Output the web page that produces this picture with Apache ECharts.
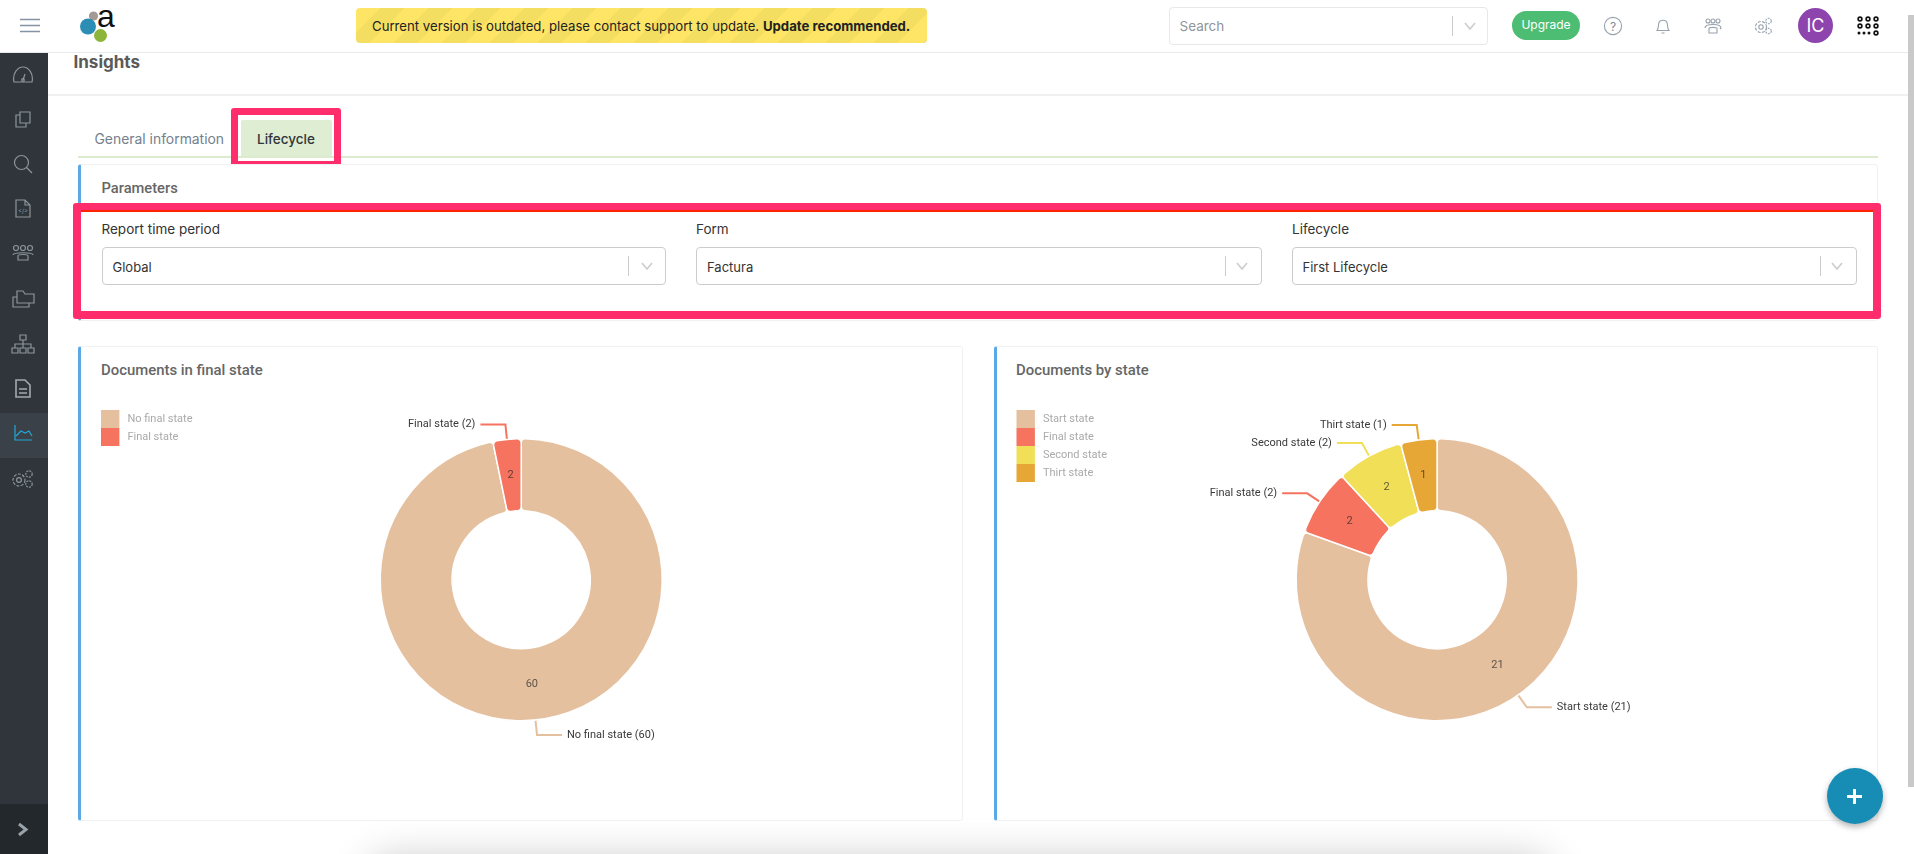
<!DOCTYPE html>
<html><head><meta charset="utf-8">
<script src="https://cdn.jsdelivr.net/npm/echarts@6/dist/echarts.min.js"></script>
<style>
html,body{margin:0;padding:0;width:1914px;height:854px;overflow:hidden;background:#fff;font-family:Inter,"Noto Sans",sans-serif;}
.a{position:absolute;box-sizing:border-box;}
.t{position:absolute;white-space:nowrap;line-height:20px;}
.card{position:absolute;box-sizing:border-box;background:#fff;border:1px solid #f0f1f2;border-left:3px solid #5aa9e6;border-radius:3px;}
.sel{position:absolute;box-sizing:border-box;top:247px;height:38px;background:#fff;border:1px solid #ccc;border-radius:4px;}
.lab{position:absolute;top:219px;color:#333;font-size:13.5px;line-height:20px;white-space:nowrap;}
.val{position:absolute;top:257px;color:#333;font-size:13px;line-height:20px;white-space:nowrap;}
.sep{position:absolute;width:1px;height:20px;background:#ccc;}
.chev{position:absolute;width:14px;height:8px;}
.ic{position:absolute;fill:none;stroke:#8d959c;stroke-width:1.2;}
.ti{position:absolute;fill:none;stroke:#98a2ad;stroke-width:1.1;}
</style></head><body>
<!-- shadow at bottom of the screenshot -->
<div class="a" style="left:380px;top:872px;width:1160px;height:20px;box-shadow:0 0 42px 12px rgba(0,0,0,.24);border-radius:10px"></div>

<!-- header -->
<div class="a" style="left:0;top:0;width:1914px;height:53px;background:#fff;border-bottom:1px solid #e8eaec"></div>
<svg class="a" style="left:20px;top:18px" width="20" height="15"><path d="M0 1.5H20M0 7.5H20M0 13.5H20" stroke="#8594a5" stroke-width="1.6"/></svg>
<svg class="a" style="left:76px;top:6px" width="44" height="40">
<circle cx="17.5" cy="10" r="4.6" fill="#a39a95"/><circle cx="12" cy="20.5" r="8" fill="#2c8db5"/><circle cx="24.5" cy="29.5" r="6.5" fill="#8db53a"/>
<text x="21" y="21" font-family="Liberation Sans" font-size="32" fill="#111">a</text></svg>
<div class="a" style="left:356px;top:8px;width:571px;height:35px;border-radius:4px;background:repeating-linear-gradient(135deg,#ffe566 0 17px,#f4de62 17px 34px)"></div>
<div class="t" style="left:372px;top:15.5px;font-size:13.2px;color:#222">Current version is outdated, please contact support to update. <b>Update recommended.</b></div>
<div class="a" style="left:1168.5px;top:7px;width:319px;height:38px;border:1px solid #e6e8ea;border-radius:4px"></div>
<div class="t" style="left:1179.5px;top:16px;font-size:13.5px;color:#8f959b">Search</div>
<div class="sep" style="left:1452px;top:16px"></div>
<svg class="chev" style="left:1463px;top:22px"><path d="M2 1L7 7L12 1" fill="none" stroke="#ccc" stroke-width="1.6"/></svg>
<div class="a" style="left:1512px;top:11px;width:68px;height:29px;border-radius:15px;background:#4dbd74"></div>
<div class="t" style="left:1512px;width:68px;top:15px;text-align:center;font-size:12px;color:#fff">Upgrade</div>
<svg class="ti" style="left:1603px;top:16px" width="20" height="20"><circle cx="10" cy="10" r="8.6"/><text x="10" y="14.5" text-anchor="middle" font-family="Inter" font-size="12" fill="#7f8a96" stroke="none">?</text></svg>
<svg class="ti" style="left:1654px;top:16px" width="18" height="20"><path d="M3 14.5C5 12 4 9 5 6.5C6 3.5 12 3.5 13 6.5C14 9 13 12 15 14.5Z M7.5 17H10.5"/></svg>
<svg class="ti" style="left:1703px;top:17px" width="20" height="18"><circle cx="5" cy="4" r="2"/><circle cx="10" cy="4" r="2"/><circle cx="15" cy="4" r="2"/><path d="M2 11C2 8 6 7.5 10 7.5S18 8 18 11L17 12M6 16V11.5C6 10 14 10 14 11.5V16Z"/></svg>
<svg class="ti" style="left:1753px;top:16px" width="20" height="20"><circle cx="8" cy="11" r="5.5" stroke-dasharray="3 1.4"/><circle cx="8" cy="11" r="2.2"/><circle cx="15.5" cy="5" r="2.8" stroke-dasharray="2 1"/><circle cx="15.5" cy="15" r="2.8" stroke-dasharray="2 1"/></svg>
<div class="a" style="left:1798px;top:8px;width:35px;height:35px;border-radius:50%;background:#8e44ad"></div>
<div class="t" style="left:1798px;width:35px;top:15.5px;text-align:center;font-size:18px;color:#fff">IC</div>
<svg class="a" style="left:1857px;top:16px" width="22" height="20" fill="none" stroke="#111" stroke-width="1.6">
<circle cx="3" cy="3" r="1.9"/><circle cx="11" cy="3" r="1.9"/><circle cx="19" cy="3" r="1.9"/>
<circle cx="3" cy="10" r="1.9"/><circle cx="11" cy="10" r="1.9"/><circle cx="19" cy="10" r="1.9"/>
<circle cx="2" cy="17" r=".7"/><circle cx="7" cy="17" r=".7"/><circle cx="12" cy="17" r=".7"/><circle cx="19" cy="17" r="1.9"/></svg>

<!-- sidebar -->
<div class="a" style="left:0;top:53px;width:48px;height:801px;background:#2f353a"></div>
<div class="a" style="left:0;top:413px;width:48px;height:45px;background:#3a4149"></div>
<div class="a" style="left:0;top:804px;width:48px;height:50px;background:#23282c"></div>
<svg class="ic" style="left:12px;top:65px" width="22" height="20"><path d="M2 17C0 8 6 2 11 2S22 8 20 17Z M11 15L13 9"/><circle cx="11" cy="15" r="1.3"/></svg>
<svg class="ic" style="left:14px;top:109px" width="18" height="20"><path d="M6 3H16V14H6Z M6 6H2V18H12V14"/></svg>
<svg class="ic" style="left:13px;top:154px" width="20" height="20"><circle cx="8.5" cy="8.5" r="7"/><path d="M13.5 13.5L19 19"/></svg>
<svg class="ic" style="left:15px;top:199px" width="16" height="20"><path d="M1 1H10L15 6V18H1Z M10 1V6H15"/><text x="8" y="14" text-anchor="middle" font-size="6" fill="#8d959c" stroke="none">&lt;/&gt;</text></svg>
<svg class="ic" style="left:11px;top:244px" width="24" height="18"><circle cx="5" cy="4" r="2.5"/><circle cx="12" cy="4" r="2.5"/><circle cx="19" cy="4" r="2.5"/><path d="M2 11C2 8 22 8 22 11M7 16V12C7 10 17 10 17 12V16Z"/></svg>
<svg class="ic" style="left:11px;top:289px" width="24" height="20"><path d="M6 2H12L14 5H23V14H6Z M6 8H2V18H18V14"/></svg>
<svg class="ic" style="left:11px;top:334px" width="24" height="20"><path d="M9 1H15V6H9Z M1 14H7V19H1Z M9 14H15V19H9Z M17 14H23V19H17Z M12 6V14M4 14V10H20V14"/></svg>
<svg class="ic" style="left:15px;top:379px;stroke-width:1.6;stroke:#a3a9ae" width="16" height="20"><path d="M1 1H10L15 6V18H1Z M4 10H12M4 14H12"/></svg>
<svg class="a" style="left:14px;top:424px" width="19" height="18" fill="none" stroke="#20a8d8" stroke-width="1.2"><path d="M1 1V16H18M2 12L7 7L11 9L15 7L18 12"/></svg>
<svg class="ic" style="left:11px;top:469px" width="24" height="20"><circle cx="8" cy="11" r="6" stroke-dasharray="3 1.4"/><circle cx="8" cy="11" r="2.4"/><circle cx="18" cy="5" r="3.2" stroke-dasharray="2 1"/><circle cx="18" cy="15" r="3.2" stroke-dasharray="2 1"/></svg>
<svg class="a" style="left:17px;top:822px" width="12" height="15"><path d="M2 2L9 7.5L2 13" fill="none" stroke="#98a2a8" stroke-width="3"/></svg>

<!-- page title -->
<div class="t" style="left:73.5px;top:52px;font-size:17px;font-weight:700;color:#5a5a5a">Insights</div>
<div class="a" style="left:48px;top:94px;width:1860px;height:2px;background:#eef0f1"></div>

<!-- tabs -->
<div class="t" style="left:94.5px;top:129px;font-size:13.9px;color:#73818f">General information</div>
<div class="a" style="left:241px;top:120px;width:91px;height:37px;background:#dfedd3;border-radius:2px"></div>
<div class="t" style="left:257px;top:129px;font-size:13.5px;font-weight:500;color:#2f353a">Lifecycle</div>
<div class="a" style="left:78px;top:156px;width:1800px;height:2px;background:#dcebcf"></div>
<div class="a" style="left:231px;top:108px;width:110px;height:60px;border:7.5px solid #ff2d6b;border-radius:3px"></div>

<!-- parameters -->
<div class="card" style="left:78px;top:164px;width:1800px;height:157px"></div>
<div class="t" style="left:101.5px;top:178px;font:500 14.7px/20px Roboto;color:#666">Parameters</div>
<div class="lab" style="left:101.5px">Report time period</div>
<div class="sel" style="left:101.5px;width:564px"></div>
<div class="val" style="left:112.5px">Global</div>
<div class="sep" style="left:628px;top:256px"></div>
<svg class="chev" style="left:640px;top:262px"><path d="M2 1L7 7L12 1" fill="none" stroke="#ccc" stroke-width="1.6"/></svg>
<div class="lab" style="left:696px">Form</div>
<div class="sel" style="left:696px;width:566px"></div>
<div class="val" style="left:707px">Factura</div>
<div class="sep" style="left:1224.5px;top:256px"></div>
<svg class="chev" style="left:1235px;top:262px"><path d="M2 1L7 7L12 1" fill="none" stroke="#ccc" stroke-width="1.6"/></svg>
<div class="lab" style="left:1292px">Lifecycle</div>
<div class="sel" style="left:1292px;width:565px"></div>
<div class="val" style="left:1302.5px">First Lifecycle</div>
<div class="sep" style="left:1819.5px;top:256px"></div>
<svg class="chev" style="left:1830px;top:262px"><path d="M2 1L7 7L12 1" fill="none" stroke="#ccc" stroke-width="1.6"/></svg>
<div class="a" style="left:73px;top:203px;width:1807.5px;height:116px;border:8px solid #ff2d6b;border-radius:3px"></div>
<div class="a" style="left:81px;top:210px;width:1791.5px;height:1.5px;background:#ff2400"></div>

<!-- chart cards -->
<div class="card" style="left:78px;top:346px;width:884.5px;height:475px"></div>
<div class="card" style="left:993.5px;top:346px;width:884px;height:475px"></div>
<div class="t" style="left:101px;top:360px;font:500 14.9px/20px Roboto;color:#666">Documents in final state</div>
<div class="t" style="left:1016px;top:360px;font:500 14.9px/20px Roboto;color:#666">Documents by state</div>
<div id="c1" class="a" style="left:81px;top:347px;width:879px;height:473px"></div>
<div id="c2" class="a" style="left:996.5px;top:347px;width:880px;height:473px"></div>

<!-- action button, scrollbar -->
<div class="a" style="left:1826.5px;top:768px;width:56px;height:56px;border-radius:50%;background:#178db5;box-shadow:0 3px 6px rgba(0,0,0,.3)"></div>
<svg class="a" style="left:1846px;top:787.5px" width="17" height="17"><path d="M8.5 1V16M1 8.5H16" stroke="#fff" stroke-width="3"/></svg>
<div class="a" style="left:1908px;top:15px;width:6px;height:772px;background:#c9c9c9"></div>

<script>
var finalStateNames = ['No final state', 'Final state'];
var finalStateValues = [60, 2];
var finalStateColors = ['#e5c09f', '#f5735f'];

var byStateNames = ['Start state', 'Final state', 'Second state', 'Thirt state'];
var byStateValues = [21, 2, 2, 1];
var byStateColors = ['#e5c09f', '#f5735f', '#f0df57', '#e6a737'];

function pieOption(names, values, colors, cx, cy, legendLeft, minAngle) {
  var items = names.map(function (n, i) {
    return { name: n, value: values[i], itemStyle: { color: colors[i] } };
  });
  var plain = names.map(function (n, i) { return { name: n, value: values[i] }; });
  return {
    animation: false,
    legend: {
      orient: 'vertical', left: legendLeft, top: 63, itemGap: 0,
      itemWidth: 18.4, itemHeight: 18, padding: 0, data: names,
      icon: 'rect', inactiveColor: '#ccc',
      textStyle: { color: '#aaa', fontSize: 11, fontFamily: 'Roboto', padding: [4, 0, 0, 3] },
      itemStyle: { borderWidth: 0 }
    },
    series: [
      {
        type: 'pie', center: [cx, cy], radius: [69, 141], startAngle: 90, clockwise: true, minAngle: minAngle,
        avoidLabelOverlap: false, data: items,
        itemStyle: { borderColor: '#fff', borderWidth: 1.5, borderRadius: 4 },
        label: { show: true, position: 'outside', formatter: '{b} ({c})', color: '#3a3a3a', fontSize: 11, fontFamily: 'Roboto', padding: [4, 0, 0, 0] },
        labelLine: { show: true, length: 15, length2: 25, smooth: false, lineStyle: { width: 2 } },
        emphasis: { scale: false }
      },
      {
        type: 'pie', center: [cx, cy], radius: [63, 141], startAngle: 90, clockwise: true, minAngle: minAngle,
        avoidLabelOverlap: false, data: plain, silent: true, z: 3,
        itemStyle: { color: 'transparent', borderWidth: 0 },
        label: { show: true, position: 'inside', formatter: '{c}', color: 'rgba(40,40,40,.72)', fontSize: 11, fontFamily: 'Roboto' },
        labelLine: { show: false }
      }
    ]
  };
}

echarts.init(document.getElementById('c1'), null, { renderer: 'canvas' })
  .setOption(pieOption(finalStateNames, finalStateValues, finalStateColors, 440.2, 232.7, 20, 0));
echarts.init(document.getElementById('c2'), null, { renderer: 'canvas' })
  .setOption(pieOption(byStateNames, byStateValues, byStateColors, 440.1, 232.7, 19.5, 15));
</script>
</body></html>
